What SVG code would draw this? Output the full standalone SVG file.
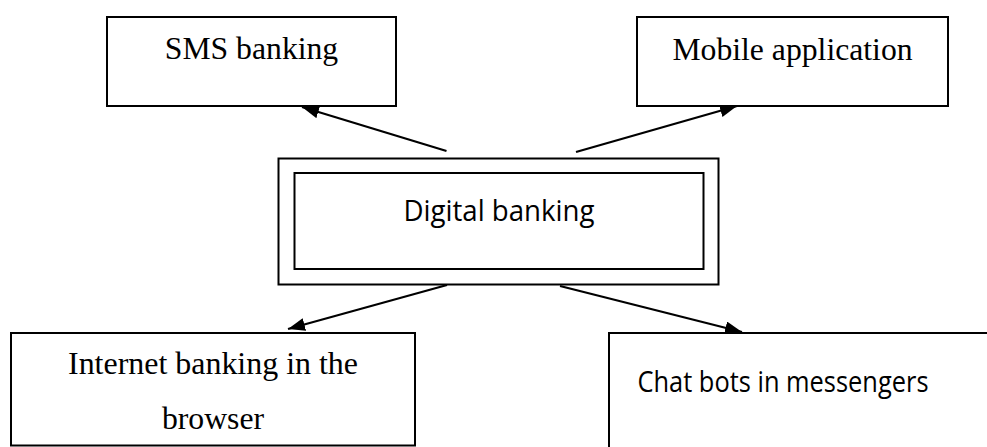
<svg xmlns="http://www.w3.org/2000/svg" width="987" height="447" viewBox="0 0 987 447">
  <style>
    .box { fill: #fff; stroke: #000; stroke-width: 2; }
    .serif { font-family: "Liberation Serif", "Times New Roman", serif; font-size: 31.7px; fill: #000; text-anchor: middle; }
    .sans { font-family: "Open Sans", "Liberation Sans", sans-serif; font-size: 29px; fill: #000; text-anchor: middle; }
    .conn { stroke: #000; stroke-width: 2.2; fill: none; marker-end: url(#arrow); }
  </style>
  <defs>
    <marker id="arrow" markerUnits="userSpaceOnUse" markerWidth="18" markerHeight="14" refX="17" refY="6.5" orient="auto">
      <path d="M0,0 L17,6.5 L0,13 z" fill="#000"/>
    </marker>
  </defs>
  <rect width="987" height="447" fill="#fff"/>

  <g id="connectors">
    <line class="conn" x1="446.5" y1="151" x2="302" y2="107"/>
    <line class="conn" x1="576" y1="152" x2="737" y2="106"/>
    <line class="conn" x1="447" y1="285" x2="288" y2="329"/>
    <line class="conn" x1="560" y1="286" x2="742" y2="332"/>
  </g>

  <g id="sms-banking">
    <rect class="box" x="107" y="17" width="289" height="89"/>
    <text class="serif" x="251.5" y="58.5">SMS banking</text>
  </g>

  <g id="mobile-application">
    <rect class="box" x="637" y="17" width="311" height="89"/>
    <text class="serif" x="792.5" y="59.5">Mobile application</text>
  </g>

  <g id="digital-banking">
    <rect class="box" x="278.5" y="158.5" width="440" height="126"/>
    <rect class="box" x="294.5" y="173" width="409" height="96"/>
    <text class="sans" x="499" y="220.5" textLength="191" lengthAdjust="spacingAndGlyphs">Digital banking</text>
  </g>

  <g id="internet-banking">
    <rect class="box" x="11" y="333" width="404" height="112.5"/>
    <text class="serif" x="213" y="374" textLength="290" lengthAdjust="spacingAndGlyphs">Internet banking in the</text>
    <text class="serif" x="213" y="428.5">browser</text>
  </g>

  <g id="chat-bots">
    <rect class="box" x="609" y="333" width="400" height="130"/>
    <text class="sans" x="783" y="391.5" textLength="291" lengthAdjust="spacingAndGlyphs">Chat bots in messengers</text>
  </g>
</svg>
